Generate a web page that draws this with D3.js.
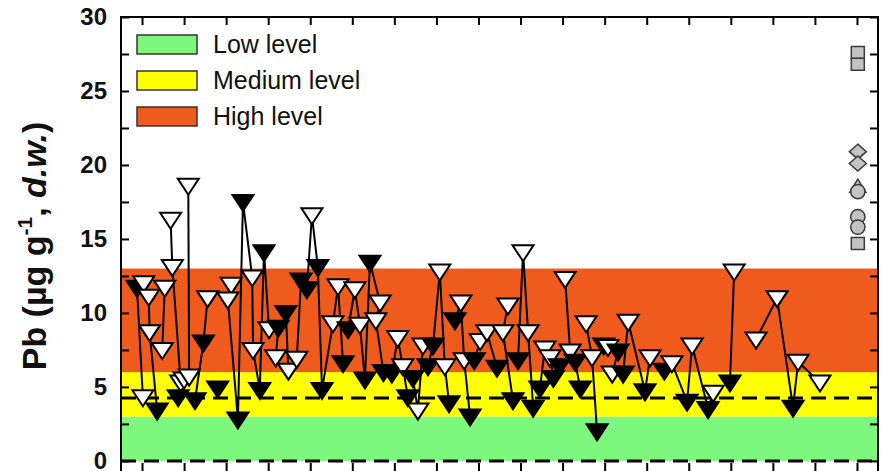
<!DOCTYPE html>
<html>
<head>
<meta charset="utf-8">
<script src="https://cdn.jsdelivr.net/npm/d3@7"></script>
<style>
  body { margin: 0; background: #fff; }
  svg { display: block; }
  text { font-family: "Liberation Sans", Arial, sans-serif; }
</style>
</head>
<body>
<svg width="881" height="471"></svg>
<script>
// sample sites: each group is one polyline, W = open triangle, B = filled triangle
const site = [
  1,1, 2,2,2,2, 3,3, 4,4,4,4,4, 5,5, 6,6,6, 7, 8,8,8,8,8,8,8,8,8,8,8,
  9,9,9,9, 10,10,10,10,10,10,10, 11,11,11,11,11,11,11,11, 12,12,12,12,
  13,13,13, 14,14,14,14,14, 15,15,15,15, 16,16,16,16, 17,17,17, 18,18,18,18,
  19,19,19,19,19, 20,20,20,20, 21,21,21, 22,22,22,22, 23,23,23,23,
  24,24,24,24,24,24, 25,25, 26,26,26,26,26
];
const xPos = [
  1.9,2.6, 2.7,3.3,3.4,4.3, 5.2,4.9, 5.9,6.1,7.1,7.5,6.8, 8.0,8.1, 10.3,9.8,8.8, 11.5,
  13.1,12.7,13.9,14.5,15.6,15.7,16.5,17.0,17.6,18.7,18.4,
  19.6,19.9,20.9,21.4, 22.1,22.7,23.4,23.9,25.2,25.8,26.4,
  27.0,27.8,28.4,29.0,29.6,30.8,30.3,31.2, 32.2,32.9,33.5,34.1,
  34.7,35.3,35.9, 36.5,37.1,37.9,38.5,39.0, 39.7,40.4,40.8,41.5, 42.0,42.7,43.5,44.7,
  46.0,45.4,46.6, 47.2,47.8,48.4,49.0, 49.8,50.4,51.0,51.4,52.1, 52.8,53.4,54.0,54.6,
  55.3,56.0,56.6, 57.4,57.9,59.1,58.4, 59.7,60.3,62.3,62.9,
  64.6,65.5,67.3,67.9,69.8,70.4, 72.4,72.9, 75.5,78.0,79.9,80.5,83.1
];
const pb = [
  11.7,4.3, 12.0,11.1,8.7,3.4, 11.7,7.5, 16.3,13.1,5.3,5.5,4.3, 18.6,5.7, 11.0,8.0,4.1, 4.9,
  11.9,10.9,2.8,17.5,12.4,7.5,4.8,14.1,8.9,9.0,7.0,
  10.0,6.1,6.9,12.2, 11.6,16.6,13.1,4.8,9.3,11.8,6.6,
  8.9,11.6,9.2,5.5,13.4,10.7,9.5,6.0, 5.9,8.3,6.4,4.3,
  5.6,3.4,7.8, 6.4,7.8,12.8,6.4,3.9, 9.5,10.7,6.8,3.0, 6.8,8.1,8.7,6.3,
  10.5,8.7,4.1, 6.8,14.1,8.7,3.6, 4.9,7.6,7.0,5.6,6.4, 12.3,7.4,6.7,4.9,
  9.3,7.0,2.0, 7.8,7.7,7.4,5.9, 5.9,9.4,4.7,7.0,
  6.1,6.6,4.0,7.8,3.5,4.6, 5.3,12.8, 8.2,11.0,3.6,6.7,5.3
];
const kind = [
  "B","W", "W","W","W","B", "W","W", "W","W","W","W","B", "W","W", "W","B","B", "B",
  "W","W","B","B","W","W","B","B","W","B","W",
  "B","W","W","B", "B","W","B","B","W","W","B",
  "B","W","W","B","B","W","W","B", "B","W","W","B",
  "B","W","W", "B","B","W","W","B", "B","W","W","B", "B","W","W","B",
  "W","W","B", "B","W","W","B", "B","W","W","B","B", "W","W","B","B",
  "W","W","B", "B","W","B","W", "B","W","B","W",
  "B","W","B","W","B","W", "B","W", "W","W","B","W","W"
];

// reference values (grey symbols at the right)
const refValue = [27.6, 26.8, 20.9, 20.1, 18.5, 18.2, 16.5, 15.8, 14.7];
const refShape = ["square","square","diamond","diamond","triangle","circle","circle","circle","square"];
const refX = 87.6;

// contamination bands
const bandName = ["Low level", "Medium level", "High level"];
const bandFrom = [0, 3, 6];
const bandTo = [3, 6, 13];
const bandColor = ["#7ef77e", "#ffff00", "#ef5a1d"];
const dashedAt = [4.25, 0];

const svg = d3.select("svg");
const pLeft = 121, pRight = 878, pTop = 17, pBottom = 472;

const x = d3.scaleLinear().domain([0, 90]).range([pLeft, pRight]);
const y = d3.scaleLinear().domain([-0.75, 30]).range([pBottom, pTop]);

const plot = svg.append("g");

// bands
plot.selectAll("rect.band")
  .data(bandFrom)
  .enter()
  .append("rect")
  .attr("class", "band")
  .attr("x", pLeft)
  .attr("width", pRight - pLeft)
  .attr("y", (d, i) => y(bandTo[i]))
  .attr("height", (d, i) => y(d) - y(bandTo[i]))
  .attr("fill", (d, i) => bandColor[i]);

// dashed reference lines
plot.selectAll("line.dash")
  .data(dashedAt)
  .enter()
  .append("line")
  .attr("x1", pLeft)
  .attr("x2", pRight)
  .attr("y1", d => y(d))
  .attr("y2", d => y(d))
  .attr("stroke", "#000")
  .attr("stroke-width", 3)
  .attr("stroke-dasharray", "15,8");

// points
const pts = site.map((s, i) => ({ site: s, x: xPos[i], v: pb[i], k: kind[i] }));
const groups = d3.groups(pts, d => d.site);

const line = d3.line().x(d => x(d.x)).y(d => y(d.v));
plot.selectAll("path.site")
  .data(groups)
  .enter()
  .append("path")
  .attr("d", d => line(d[1]))
  .attr("fill", "none")
  .attr("stroke", "#000")
  .attr("stroke-width", 2);

const tri = "M-10.5,-7L10.5,-7L0,9Z";
plot.selectAll("path.pt")
  .data(pts)
  .enter()
  .append("path")
  .attr("d", tri)
  .attr("transform", d => `translate(${x(d.x)},${y(d.v)})`)
  .attr("fill", d => d.k === "W" ? "#fff" : "#000")
  .attr("stroke", "#000")
  .attr("stroke-width", 2)
  .attr("stroke-linejoin", "miter");

// reference symbols
const shapePath = {
  square: "M-6.5,-6L6.5,-6L6.5,6L-6.5,6Z",
  diamond: "M0,-7.5L8.5,0L0,7.5L-8.5,0Z",
  triangle: "M0,-8L8,5L-8,5Z",
  circle: d3.symbol().type(d3.symbolCircle).size(160)()
};
plot.selectAll("path.ref")
  .data(refValue)
  .enter()
  .append("path")
  .attr("d", (d, i) => shapePath[refShape[i]])
  .attr("transform", d => `translate(${x(refX)},${y(d)})`)
  .attr("fill", "#c3c3c3")
  .attr("stroke", "#3a3a3a")
  .attr("stroke-width", 1.5);

// axes, ticks inward
const xt = d3.range(2.5, 88, 5);
const yt = d3.range(0, 30.01, 2.5);
const styleAxis = g => {
  g.select(".domain").remove();
  g.selectAll("line").attr("stroke", "#000").attr("stroke-width", 2);
};
svg.append("g").attr("transform", `translate(0,${pTop})`)
  .call(d3.axisTop(x).tickValues(xt).tickSizeInner(-8).tickSizeOuter(0).tickFormat(""))
  .call(styleAxis);
svg.append("g").attr("transform", `translate(0,${pBottom})`)
  .call(d3.axisBottom(x).tickValues(xt).tickSizeInner(-9).tickSizeOuter(0).tickFormat(""))
  .call(styleAxis);
svg.append("g").attr("transform", `translate(${pRight},0)`)
  .call(d3.axisRight(y).tickValues(yt).tickSizeInner(-8).tickSizeOuter(0).tickFormat(""))
  .call(styleAxis);
const yAxis = svg.append("g").attr("transform", `translate(${pLeft},0)`)
  .call(d3.axisLeft(y).tickValues(yt).tickSizeInner(-8).tickSizeOuter(0).tickPadding(14)
    .tickFormat(d => d % 5 === 0 ? d : ""))
  .call(styleAxis);
yAxis.selectAll("text")
  .attr("font-size", 24)
  .attr("font-weight", "bold")
  .attr("font-family", "Liberation Sans, Arial, sans-serif")
  .attr("fill", "#111");

// frame
svg.append("rect")
  .attr("x", pLeft).attr("y", pTop)
  .attr("width", pRight - pLeft).attr("height", pBottom - pTop)
  .attr("fill", "none").attr("stroke", "#000").attr("stroke-width", 2);

// y title
const title = svg.append("text")
  .attr("transform", "translate(46,246) rotate(-90)")
  .attr("text-anchor", "middle")
  .attr("font-size", 34)
  .attr("font-weight", "bold")
  .attr("fill", "#111");
title.append("tspan").text("Pb (µg g");
title.append("tspan").attr("font-size", 21).attr("dy", -14).text("-1");
title.append("tspan").attr("dy", 14).text(", ");
title.append("tspan").attr("font-style", "italic").text("d.w.");
title.append("tspan").text(")");

// legend
const legend = svg.append("g");
legend.selectAll("rect")
  .data(bandName)
  .enter()
  .append("rect")
  .attr("x", 137)
  .attr("y", (d, i) => 35 + i * 36)
  .attr("width", 60)
  .attr("height", 19)
  .attr("fill", (d, i) => bandColor[i])
  .attr("stroke", "#333")
  .attr("stroke-width", 1.5);
legend.selectAll("text")
  .data(bandName)
  .enter()
  .append("text")
  .attr("x", 213)
  .attr("y", (d, i) => 53 + i * 36)
  .attr("font-size", 25)
  .attr("fill", "#111")
  .text(d => d);
</script>
</body>
</html>
